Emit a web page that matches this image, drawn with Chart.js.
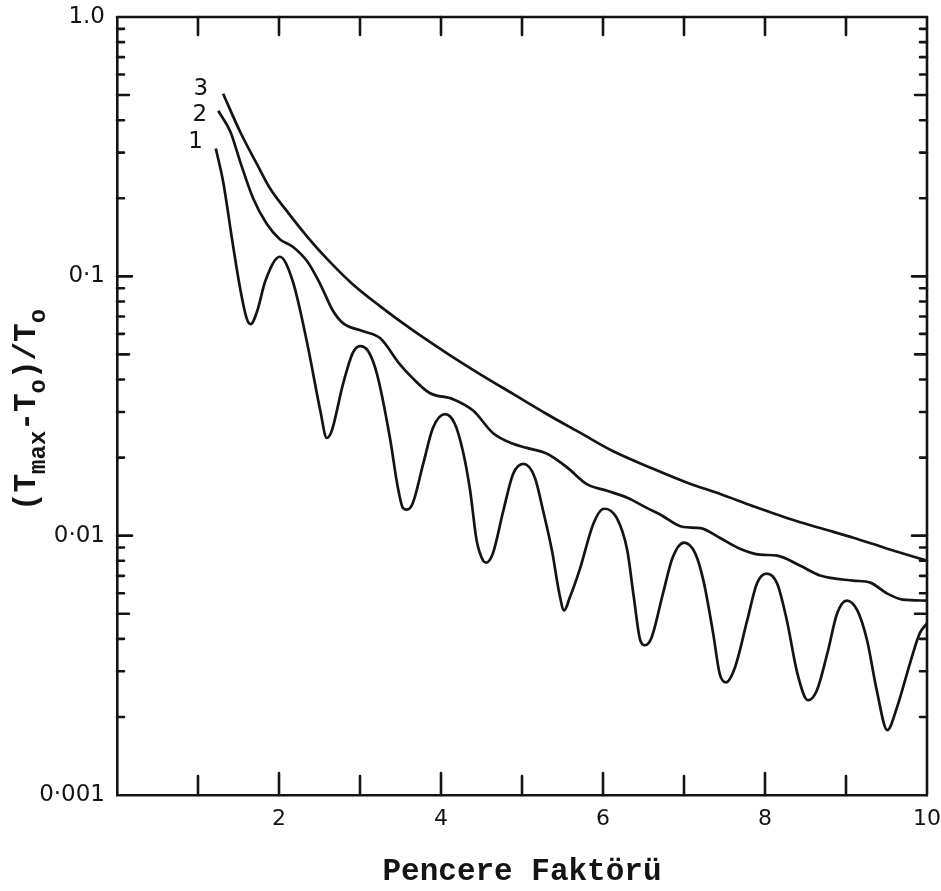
<!DOCTYPE html>
<html>
<head>
<meta charset="utf-8">
<script src="https://cdn.jsdelivr.net/npm/chart.js@4.4.1/dist/chart.umd.min.js"></script>
<style>
  html, body { margin: 0; padding: 0; background: #fff; }
</style>
</head>
<body>
<canvas id="myChart" width="941" height="891"></canvas>
<script>
// curve 1 (oscillating)
const curve1X = [1.22, 1.31, 1.43, 1.52, 1.60, 1.65, 1.73, 1.83, 2.01, 2.17, 2.35, 2.51, 2.59, 2.65, 2.79,
                 2.91, 3.00, 3.10, 3.21, 3.37, 3.46, 3.53, 3.58, 3.65, 3.78, 3.90, 4.05, 4.17, 4.27, 4.36, 4.44, 4.52, 4.56, 4.64, 4.77,
                 4.89, 5.02, 5.16, 5.26, 5.37, 5.46, 5.52, 5.59, 5.72, 5.88, 6.01, 6.17, 6.30, 6.38, 6.46, 6.52, 6.60, 6.74, 6.86, 7.00,
                 7.14, 7.24, 7.36, 7.44, 7.52, 7.63, 7.78, 7.90, 8.02, 8.15, 8.27, 8.40, 8.53, 8.64, 8.77, 8.89, 9.01, 9.14, 9.26, 9.38,
                 9.51, 9.63, 9.79, 9.91, 10.0];
const curve1Y = [0.311, 0.232, 0.133, 0.0899, 0.0690, 0.0654, 0.0733, 0.0957, 0.119, 0.0957, 0.0548, 0.0303, 0.0238, 0.0253, 0.0384,
                 0.0506, 0.0538, 0.0515, 0.0420, 0.0238, 0.0158, 0.0128, 0.0126, 0.0133, 0.0189, 0.0260, 0.0294, 0.0270, 0.0212, 0.0149, 0.00957, 0.00801, 0.00787, 0.00853, 0.0125,
                 0.0173, 0.0189, 0.0167, 0.0125, 0.00876, 0.00600, 0.00515, 0.00577, 0.00753, 0.0111, 0.0127, 0.0117, 0.00876, 0.00580, 0.00395, 0.00378, 0.00405, 0.00598, 0.00823, 0.00940,
                 0.00853, 0.00671, 0.00420, 0.00294, 0.00272, 0.00311, 0.00471, 0.00654, 0.00714, 0.00654, 0.00471, 0.00294, 0.00232, 0.00253, 0.00352, 0.00501, 0.00562, 0.00515, 0.00395, 0.00253,
                 0.00178, 0.00218, 0.00322, 0.00420, 0.00459];

// curve 2
const curve2X = [1.25, 1.40, 1.52, 1.68, 1.85, 2.01, 2.17, 2.35, 2.51, 2.67, 2.79, 3.04, 3.25, 3.49, 3.65, 3.86, 4.15, 4.40, 4.64, 4.89,
                 5.06, 5.31, 5.56, 5.80, 6.05, 6.30, 6.54, 6.70, 6.99, 7.20, 7.44, 7.69, 7.94, 8.15, 8.43, 8.68, 9.09, 9.30, 9.51, 9.70, 10.0];
const curve2Y = [0.435, 0.361, 0.277, 0.200, 0.159, 0.139, 0.130, 0.114, 0.0932, 0.0733, 0.0660, 0.0614, 0.0577, 0.0459, 0.0405, 0.0355, 0.0336, 0.0303, 0.0249, 0.0226,
                 0.0218, 0.0207, 0.0183, 0.0158, 0.0149, 0.0140, 0.0128, 0.0121, 0.0108, 0.0107, 0.00982, 0.00891, 0.00845, 0.00838, 0.00767, 0.00702, 0.00671, 0.00659, 0.00598, 0.00567, 0.00562];

// curve 3
const curve3X = [1.31, 1.52, 1.73, 1.89, 2.10, 2.35, 2.59, 2.91, 3.25, 3.65, 4.07, 4.48, 4.89, 5.31, 5.72, 6.12, 6.62, 7.04, 7.44, 7.85,
                 8.27, 8.68, 9.09, 9.51, 10.0];
const curve3Y = [0.506, 0.361, 0.270, 0.218, 0.178, 0.142, 0.117, 0.0932, 0.0766, 0.0620, 0.0506, 0.0420, 0.0352, 0.0294, 0.0249, 0.0212, 0.0181, 0.0160, 0.0145, 0.0130,
                 0.0117, 0.0107, 0.00982, 0.00891, 0.00801];

const seriesNames = ['1', '2', '3'];

// axis ticks
const xTickValues = [0, 1, 2, 3, 4, 5, 6, 7, 8, 9, 10];
const xLabelValues = [2, 4, 6, 8, 10];
const yTickValues = [0.001, 0.002, 0.003, 0.004, 0.005, 0.006, 0.007, 0.008, 0.009,
                     0.01, 0.02, 0.03, 0.04, 0.05, 0.06, 0.07, 0.08, 0.09,
                     0.1, 0.2, 0.3, 0.4, 0.5, 0.6, 0.7, 0.8, 0.9, 1];
const yLabelValues = [1, 0.1, 0.01, 0.001];
const yLabelTexts = ['1.0', '0·1', '0·01', '0·001'];

const ink = '#141414';

function toPoints(xs, ys) {
    return xs.map((x, i) => ({ x: x, y: ys[i] }));
}

// inward tick marks on all four sides + top/right frame
const frameTicks = {
    id: 'frameTicks',
    afterDraw(chart) {
        const { ctx, chartArea: a, scales: { x, y } } = chart;
        ctx.save();
        ctx.strokeStyle = ink;
        ctx.lineWidth = 2.6;
        ctx.lineCap = 'round';
        ctx.beginPath();
        ctx.moveTo(a.left, a.top);
        ctx.lineTo(a.right, a.top);
        ctx.lineTo(a.right, a.bottom);
        ctx.stroke();

        x.ticks.forEach(t => {
            if (t.value <= x.min || t.value >= x.max) return;
            const px = x.getPixelForValue(t.value);
            const len = t.value % 2 === 0 ? 22 : 19;
            ctx.beginPath();
            ctx.moveTo(px, a.bottom);
            ctx.lineTo(px, a.bottom - len);
            ctx.moveTo(px, a.top);
            ctx.lineTo(px, a.top + 18);
            ctx.stroke();
        });

        y.ticks.forEach(t => {
            if (t.value <= y.min || t.value >= y.max) return;
            const py = y.getPixelForValue(t.value);
            const lead = Math.round(t.value / Math.pow(10, Math.floor(Math.log10(t.value) + 1e-9)));
            const len = lead === 1 ? 15 : (lead === 5 ? 12 : 7);
            ctx.beginPath();
            ctx.moveTo(a.left, py);
            ctx.lineTo(a.left + len, py);
            ctx.moveTo(a.right, py);
            ctx.lineTo(a.right - len, py);
            ctx.stroke();
        });
        ctx.restore();
    }
};

// curve numbers next to the start of each curve
const seriesLabels = {
    id: 'seriesLabels',
    afterDatasetsDraw(chart) {
        const { ctx } = chart;
        const offsets = [[-13, -7], [-11, 4], [-15, -5]];
        ctx.save();
        ctx.font = '23px "DejaVu Sans"';
        ctx.fillStyle = ink;
        ctx.textAlign = 'right';
        ctx.textBaseline = 'middle';
        chart.data.datasets.forEach((ds, i) => {
            const pt = chart.getDatasetMeta(i).data[0];
            ctx.fillText(ds.label, pt.x + offsets[i][0], pt.y + offsets[i][1]);
        });
        ctx.restore();
    }
};

// y title with subscripts: (T_max - T_o)/T_o
const yTitle = {
    id: 'yTitle',
    afterDraw(chart) {
        const { ctx } = chart;
        const parts = [['(T', false], ['max', true], ['-T', false], ['o', true], [')/T', false], ['o', true]];
        const big = 'bold 31px "Liberation Mono"';
        const small = 'bold 24px "Liberation Mono"';
        ctx.save();
        ctx.translate(30, 410);
        ctx.rotate(-Math.PI / 2);
        ctx.fillStyle = ink;
        ctx.textBaseline = 'alphabetic';
        let total = 0;
        parts.forEach(([s, sub]) => { ctx.font = sub ? small : big; total += ctx.measureText(s).width; });
        let u = -total / 2;
        parts.forEach(([s, sub]) => {
            ctx.font = sub ? small : big;
            ctx.fillText(s, u, sub ? 15 : 5);
            u += ctx.measureText(s).width;
        });
        ctx.restore();
    }
};

const canvas = document.getElementById('myChart');
const ctx1 = canvas.getContext('2d');

const curves = [[curve1X, curve1Y], [curve2X, curve2Y], [curve3X, curve3Y]];

new Chart(ctx1, {
    type: 'line',
    data: {
        datasets: curves.map((c, i) => ({
            label: seriesNames[i],
            data: toPoints(c[0], c[1]),
            borderColor: ink,
            borderWidth: 2.7,
            pointRadius: 0,
            fill: false,
            cubicInterpolationMode: 'monotone'
        }))
    },
    options: {
        responsive: false,
        animation: false,
        devicePixelRatio: 1,
        layout: {
            padding: { left: 0, right: 14, top: 17, bottom: 0 }
        },
        scales: {
            x: {
                type: 'linear',
                min: 0,
                max: 10,
                afterBuildTicks: s => { s.ticks = xTickValues.map(v => ({ value: v })); },
                afterFit: s => { s.height = 96; s.paddingRight = 0; s.paddingLeft = 0; },
                grid: { display: false },
                border: { display: true, color: ink, width: 2.6 },
                ticks: {
                    autoSkip: false,
                    maxRotation: 0,
                    padding: 3,
                    color: ink,
                    font: { family: 'DejaVu Sans', size: 22 },
                    callback: v => xLabelValues.includes(v) ? String(v) : ''
                },
                title: {
                    display: true,
                    text: 'Pencere Faktörü',
                    color: ink,
                    font: { family: 'Liberation Mono', size: 31, weight: 'bold' },
                    padding: { top: 0, bottom: 0 }
                }
            },
            y: {
                type: 'logarithmic',
                min: 0.001,
                max: 1,
                afterBuildTicks: s => { s.ticks = yTickValues.map(v => ({ value: v })); },
                afterFit: s => { s.width = 117; s.paddingTop = 0; s.paddingBottom = 0; },
                grid: { display: false },
                border: { display: true, color: ink, width: 2.6 },
                ticks: {
                    autoSkip: false,
                    padding: 4,
                    color: ink,
                    font: { family: 'DejaVu Sans', size: 23 },
                    callback: v => {
                        const i = yLabelValues.indexOf(v);
                        return i >= 0 ? yLabelTexts[i] : '';
                    }
                }
            }
        },
        plugins: {
            legend: { display: false },
            tooltip: { enabled: false }
        }
    },
    plugins: [frameTicks, seriesLabels, yTitle]
});
</script>
</body>
</html>
